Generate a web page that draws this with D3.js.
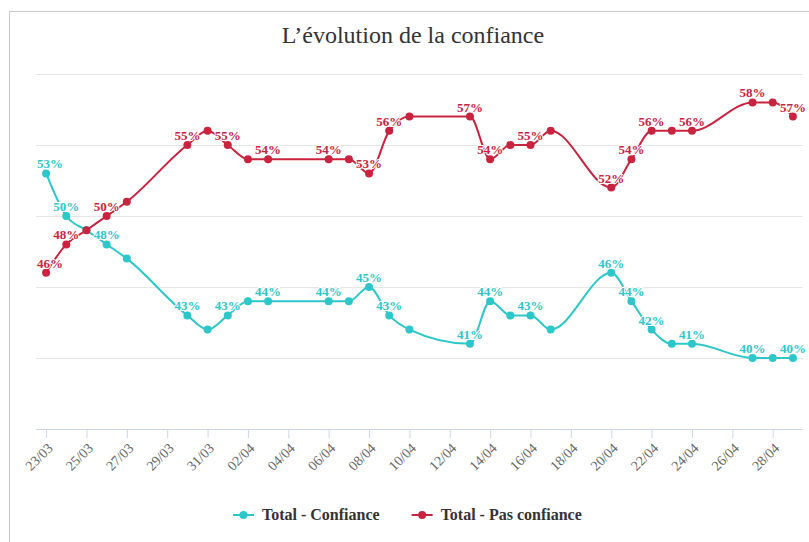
<!DOCTYPE html>
<html>
<head>
<meta charset="utf-8">
<script src="https://cdn.jsdelivr.net/npm/d3@7"></script>
<style>
  body { margin: 0; background: #fff; }
  svg { display: block; font-family: "Liberation Serif", "Times New Roman", serif; }
</style>
</head>
<body>
<div id="chart"></div>
<script>
// data (weekdays only)
var dates = ["23/03", "24/03", "25/03", "26/03", "27/03", "30/03", "31/03", "01/04", "02/04", "03/04",
             "06/04", "07/04", "08/04", "09/04", "10/04", "13/04", "14/04", "15/04", "16/04", "17/04",
             "20/04", "21/04", "22/04", "23/04", "24/04", "27/04", "28/04", "29/04"];
var confiance = [53, 50, 49, 48, 47, 43, 42, 43, 44, 44, 44, 44, 45, 43, 42, 41, 44, 43, 43, 42,
                 46, 44, 42, 41, 41, 40, 40, 40];
var pasConfiance = [46, 48, 49, 50, 51, 55, 56, 55, 54, 54, 54, 54, 53, 56, 57, 57, 54, 55, 55, 56,
                    52, 54, 56, 56, 56, 58, 58, 57];
// points that show a value label
var labelled = [0, 1, 3, 5, 7, 9, 10, 12, 13, 15, 16, 18, 20, 21, 22, 24, 25, 27];
var tickLabels = ["23/03", "25/03", "27/03", "29/03", "31/03", "02/04", "04/04", "06/04", "08/04", "10/04",
                  "12/04", "14/04", "16/04", "18/04", "20/04", "22/04", "24/04", "26/04", "28/04"];
var yTicks = [35, 40, 45, 50, 55, 60];
var seriesNames = ["Total - Confiance", "Total - Pas confiance"];
var colors = ["#2ec7c9", "#c9243f"];

var W = 809, H = 542;
var plot = {left: 36, right: 803, top: 74, bottom: 429};

var parse = d3.timeParse("%d/%m/%Y");
function toDate(s) { return parse(s + "/2020"); }

var x = d3.scaleTime()
    .domain([new Date(2020, 2, 22, 12), new Date(2020, 3, 29, 12)])
    .range([plot.left, plot.right]);
var y = d3.scaleLinear()
    .domain([35, 60])
    .range([plot.bottom, plot.top]);

var svg = d3.select("#chart").append("svg")
    .attr("width", W)
    .attr("height", H);

// outer frame
svg.append("rect")
    .attr("x", 9.5).attr("y", 11.5)
    .attr("width", 840).attr("height", 600)
    .attr("fill", "#fff")
    .attr("stroke", "#c8c8c8");

// title
svg.append("text")
    .attr("x", 413).attr("y", 43)
    .attr("text-anchor", "middle")
    .attr("font-size", 24)
    .attr("fill", "#333")
    .text("L’évolution de la confiance");

// grid lines
svg.append("g")
    .selectAll("line")
    .data(yTicks.slice(1))
  .enter().append("line")
    .attr("x1", plot.left).attr("x2", plot.right)
    .attr("y1", function(d) { return Math.round(y(d)) + 0.5; })
    .attr("y2", function(d) { return Math.round(y(d)) + 0.5; })
    .attr("stroke", "#e6e6e6");

// x axis
var xAxis = svg.append("g")
    .attr("transform", "translate(0," + plot.bottom + ")")
    .call(d3.axisBottom(x)
      .tickValues(tickLabels.map(toDate))
      .tickSize(9)
      .tickFormat(d3.timeFormat("%d/%m")));
xAxis.select(".domain").attr("stroke", "#ccd6eb").attr("d", "M" + plot.left + ",0.5H" + plot.right);
xAxis.selectAll(".tick line").attr("stroke", "#ccd6eb");
xAxis.selectAll(".tick text")
    .attr("font-family", "Liberation Serif, serif")
    .attr("font-size", 14)
    .attr("fill", "#666")
    .attr("text-anchor", "end")
    .attr("y", 0).attr("dy", 0)
    .attr("transform", "translate(7,20) rotate(-45)");

var line = d3.line()
    .x(function(d) { return x(toDate(d.date)); })
    .y(function(d) { return y(d.value); })
    .curve(d3.curveMonotoneX);

[confiance, pasConfiance].forEach(function(values, i) {
  var data = dates.map(function(dt, j) { return {date: dt, value: values[j], idx: j}; });
  var g = svg.append("g");

  g.append("path")
      .datum(data)
      .attr("d", line)
      .attr("fill", "none")
      .attr("stroke", colors[i])
      .attr("stroke-width", 2);

  g.selectAll("circle")
      .data(data)
    .enter().append("circle")
      .attr("cx", function(d) { return x(toDate(d.date)); })
      .attr("cy", function(d) { return y(d.value); })
      .attr("r", 4)
      .attr("fill", colors[i]);

  g.selectAll("text")
      .data(data.filter(function(d) { return labelled.indexOf(d.idx) >= 0; }))
    .enter().append("text")
      .attr("x", function(d) { return Math.min(Math.max(x(toDate(d.date)), plot.left + 14), W - 15); })
      .attr("y", function(d) { return y(d.value) - 5; })
      .attr("text-anchor", "middle")
      .attr("font-size", 13)
      .attr("font-weight", "bold")
      .attr("fill", colors[i])
      .attr("stroke", "#fff")
      .attr("stroke-width", 2)
      .attr("paint-order", "stroke")
      .text(function(d) { return d.value + "%"; });
});

// legend
var legend = svg.append("g").attr("transform", "translate(0,515)");
var lx = 233;
seriesNames.forEach(function(name, i) {
  var item = legend.append("g").attr("transform", "translate(" + lx + ",0)");
  item.append("line")
      .attr("x1", 0).attr("x2", 21)
      .attr("y1", 0).attr("y2", 0)
      .attr("stroke", colors[i])
      .attr("stroke-width", 2);
  item.append("circle")
      .attr("cx", 10.5).attr("cy", 0).attr("r", 4)
      .attr("fill", colors[i]);
  var t = item.append("text")
      .attr("x", 29).attr("y", 5)
      .attr("font-size", 16)
      .attr("font-weight", "bold")
      .attr("fill", "#333")
      .text(name);
  lx += 29 + t.node().getComputedTextLength() + 32;
});
</script>
</body>
</html>
